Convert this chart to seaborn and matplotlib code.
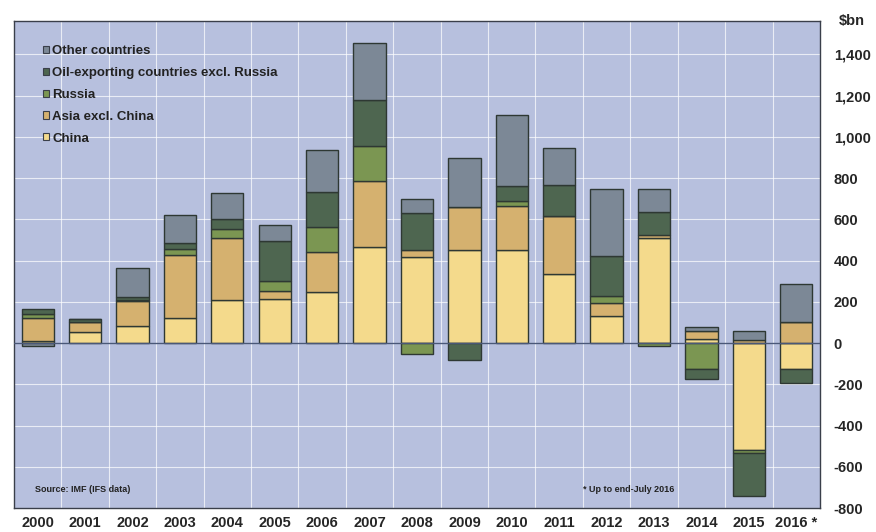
import numpy as np
import pandas as pd
import seaborn as sns
import matplotlib.pyplot as plt
from matplotlib.patches import Patch
from matplotlib.ticker import FuncFormatter, MultipleLocator

years = ["2000", "2001", "2002", "2003", "2004", "2005", "2006", "2007", "2008",
         "2009", "2010", "2011", "2012", "2013", "2014", "2015", "2016 *"]

# $bn
china = [11, 52, 81, 121, 210, 212, 248, 465, 416, 453, 449, 335, 130, 507, 21, -518, -126]
asia = [110, 50, 121, 308, 300, 38, 194, 320, 34, 206, 215, 283, 64, 19, 39, 16, 100]
russia = [19, 0, 8, 27, 43, 52, 121, 170, -53, 0, 23, 0, 33, -15, -126, -16, 0]
oil = [26, 15, 11, 29, 49, 195, 170, 223, 181, -81, 73, 148, 194, 110, -46, -206, -70]
other = [-13, 0, 143, 138, 126, 77, 202, 278, 65, 239, 344, 178, 324, 109, 18, 42, 186]

series = ["China", "Asia excl. China", "Russia",
          "Oil-exporting countries excl. Russia", "Other countries"]
values = [china, asia, russia, oil, other]
colors = ["#F4DA8C", "#D5B16F", "#7B9652", "#4E6650", "#7C8896"]

sns.set_style("white")
plt.rcParams["font.family"] = ["Liberation Sans", "DejaVu Sans"]
plt.rcParams["font.weight"] = "bold"

fig = plt.figure(figsize=(8.76, 5.32), dpi=100)
ax = fig.add_axes([0.016, 0.045, 0.920, 0.915])
ax.set_facecolor("#B7C0DE")

pos = np.zeros(len(years))
neg = np.zeros(len(years))
for name, vals, col in zip(series, values, colors):
    v = np.array(vals, dtype=float)
    bottom = np.where(v >= 0, pos, neg)
    df = pd.DataFrame({"year": years, "value": v})
    sns.barplot(data=df, x="year", y="value", order=years, color=col,
                bottom=bottom, width=0.68, edgecolor="#2E3833", linewidth=1,
                saturation=1, ax=ax, zorder=3)
    pos = pos + np.where(v >= 0, v, 0)
    neg = neg + np.where(v < 0, v, 0)

ax.set_xlim(-0.5, len(years) - 0.5)
ax.axhline(0, color="#4A5878", lw=1, zorder=4)

# white grid: horizontal every 200, vertical between categories
for yv in range(-800, 1600, 200):
    ax.axhline(yv, color="white", lw=0.8, alpha=0.7, zorder=1)
for xv in np.arange(0.5, len(years) - 0.5, 1):
    ax.axvline(xv, color="white", lw=0.8, alpha=0.7, zorder=1)

ax.yaxis.tick_right()
ax.yaxis.set_major_formatter(FuncFormatter(lambda y, p: f"{int(y):,}"))
ax.set_yticks(range(-800, 1600, 200))
ax.set_ylim(-800, 1560)
ax.tick_params(axis="y", length=0, pad=10, labelsize=10.5)
ax.tick_params(axis="x", length=0, pad=6, labelsize=10.5)
for lab in ax.get_xticklabels() + ax.get_yticklabels():
    lab.set_fontweight("bold")
ax.set_xlabel("")
ax.set_ylabel("")

for s in ax.spines.values():
    s.set_color("#3A3F4A")
    s.set_linewidth(1)

fig.text(0.972, 0.960, "$bn", ha="center", va="center", fontsize=10.5, fontweight="bold")

ax.text(0.026, 0.039, "Source: IMF (IFS data)", transform=ax.transAxes,
        fontsize=6.5, fontweight="bold", va="center", color="#222222")
ax.text(0.706, 0.039, "* Up to end-July 2016", transform=ax.transAxes,
        fontsize=6.5, fontweight="bold", va="center", color="#222222")

handles = [Patch(facecolor=c, edgecolor="#3A3F4A", linewidth=0.8, label=n)
           for n, c in zip(series, colors)][::-1]
leg = ax.legend(handles=handles, loc="upper left", bbox_to_anchor=(0.03, 0.962),
                frameon=False, fontsize=9.5, handlelength=0.45, handleheight=0.45,
                handletextpad=0.2, labelspacing=0.75, borderaxespad=0)
for t in leg.get_texts():
    t.set_fontweight("bold")
    t.set_color("#222222")

fig.savefig("out.png", dpi=100)
